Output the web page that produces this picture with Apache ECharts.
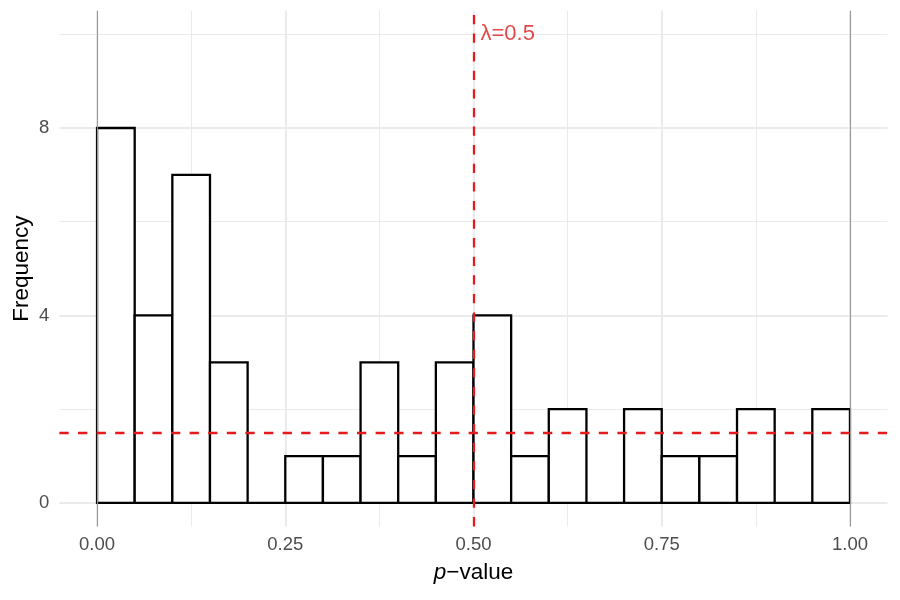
<!DOCTYPE html>
<html><head><meta charset="utf-8">
<script src="https://cdn.jsdelivr.net/npm/echarts@6/dist/echarts.min.js"></script>
<style>html,body{margin:0;padding:0;background:#fff}#c{width:900px;height:600px}</style>
</head><body><div id="c"></div>
<script>
// ---- data ----
const binStarts = [0.00,0.05,0.10,0.15,0.20,0.25,0.30,0.35,0.40,0.45,0.50,0.55,0.60,0.65,0.70,0.75,0.80,0.85,0.90,0.95];
const binWidth = 0.05;
const counts    = [8,4,7,3,0,1,1,3,1,3,4,1,2,0,2,1,1,2,0,2];
const xMajorTicks = [0,0.25,0.5,0.75,1];
const xMinorTicks = [0.125,0.375,0.625,0.875];
const yMajorTicks = [0,4,8];
const yMinorTicks = [2,6,10];
const boundaryLines = [0,1];
const lambdaValue = 0.5;
const pi0Level = 1.5;
const lambdaLabel = 'λ=0.5';
const labelY = 10;

const FONT = '"Liberation Sans", Arial, sans-serif';
const RED = '#E41A1C';
const GRID = '#EBEBEB';

const histData = binStarts.map((s,i)=>[s, s+binWidth, counts[i]]);

const chart = echarts.init(document.getElementById('c'), null, {renderer:'canvas'});
chart.setOption({
  backgroundColor:'#fff',
  animation:false,
  textStyle:{fontFamily:FONT},
  grid:{left:59.4, right:12.4, top:10.8, bottom:73.6, containLabel:false, outerBoundsMode:'none'},
  xAxis:[{
    type:'value', min:-0.05, max:1.05, position:'bottom',
    axisLine:{show:false},
    axisTick:{show:false, customValues:xMajorTicks},
    axisLabel:{customValues:xMajorTicks, formatter:v=>v.toFixed(2), color:'#4D4D4D', fontSize:18.5, margin:9, fontFamily:FONT},
    splitLine:{show:true, lineStyle:{color:GRID, width:2}},
    name:'{i|p}−value', nameLocation:'middle', nameGap:35, nameMoveOverlap:false,
    nameTextStyle:{color:'#000', fontSize:22.5, fontFamily:FONT, rich:{i:{fontStyle:'italic', fontSize:22.5, color:'#000', fontFamily:FONT}}}
  },{
    type:'value', min:-0.05, max:1.05, position:'top',
    axisLine:{show:false}, axisLabel:{show:false},
    axisTick:{show:false, customValues:xMinorTicks},
    splitLine:{show:true, lineStyle:{color:GRID, width:1.1}}
  }],
  yAxis:[{
    type:'value', min:-0.5, max:10.5, position:'left',
    axisLine:{show:false},
    axisTick:{show:false, customValues:yMajorTicks},
    axisLabel:{customValues:yMajorTicks, color:'#4D4D4D', fontSize:18.5, margin:10, fontFamily:FONT},
    splitLine:{show:true, lineStyle:{color:GRID, width:2}},
    name:'Frequency', nameLocation:'middle', nameGap:26, nameRotate:90, nameMoveOverlap:false,
    nameTextStyle:{color:'#000', fontSize:22.5, fontFamily:FONT}
  },{
    type:'value', min:-0.5, max:10.5, position:'right',
    axisLine:{show:false}, axisLabel:{show:false},
    axisTick:{show:false, customValues:yMinorTicks},
    splitLine:{show:true, lineStyle:{color:GRID, width:1.1}}
  }],
  series:[{
    type:'line', data:[], z:1, silent:true,
    markLine:{silent:true, symbol:'none', label:{show:false},
      lineStyle:{color:'#999999', width:1.1, type:'solid'},
      data:boundaryLines.map(v=>({xAxis:v}))}
  },{
    type:'custom', z:2, silent:true,
    encode:{x:[0,1], y:2},
    data:histData,
    renderItem:function(params, api){
      const p0 = api.coord([api.value(0), 0]);
      const p1 = api.coord([api.value(1), api.value(2)]);
      return {type:'rect', shape:{x:p0[0], y:p1[1], width:p1[0]-p0[0], height:p0[1]-p1[1]},
        style:{fill:'#fff', stroke:'#000', lineWidth:2.3}};
    }
  },{
    type:'scatter', z:5, silent:true, symbolSize:0,
    data:[[lambdaValue, labelY]],
    label:{show:true, position:'right', distance:7, formatter:lambdaLabel, color:'#DE1A1C', fontSize:22, fontFamily:FONT},
    markLine:{silent:true, symbol:'none', label:{show:false},
      lineStyle:{color:RED, width:2.3, type:[9.3,9.3]},
      data:[{xAxis:lambdaValue},{yAxis:pi0Level}]}
  }]
});
</script></body></html>
